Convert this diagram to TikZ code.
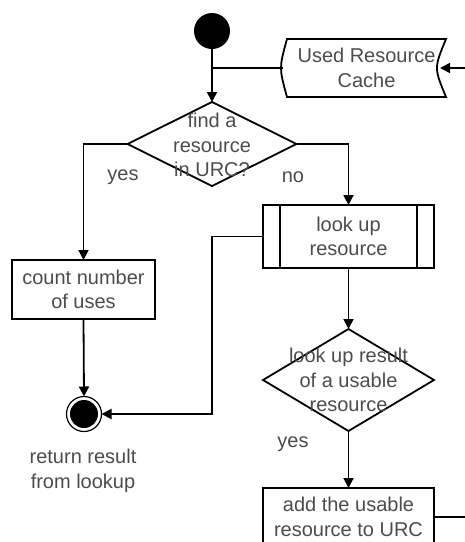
\documentclass[tikz,border=0pt]{standalone}
\usepackage{fontspec}
\setmainfont{Liberation Sans}
\usetikzlibrary{shapes.geometric,arrows.meta,calc}
\begin{document}
\begin{tikzpicture}[x=0.5pt,y=-0.5pt,
  lbl/.style={font=\fontsize{10}{12.25}\selectfont, text=black!70, align=center, inner sep=0pt},
  box/.style={draw, rectangle, line width=0.9pt, inner sep=0pt, outer sep=0pt, align=center,
              font=\fontsize{10}{12.25}\selectfont, text=black!70},
  dia/.style={draw, diamond, line width=0.9pt, inner sep=0pt, outer sep=0pt},
  arr/.style={-{Triangle[width=5pt,length=5pt]}, line width=0.9pt},
  ln/.style={line width=0.9pt}]
\useasboundingbox (0,0) rectangle (465,542);
\clip (0,0) rectangle (465,542);

% start
\node[circle, fill=black, minimum size=18pt, inner sep=0pt, outer sep=0pt] (start) at (212,31) {};

% cache
\node[rectangle, minimum width=79.5pt, minimum height=29pt, inner sep=0pt, outer sep=0pt, lbl] (cache) at (366.5,68) {Used Resource\\Cache};
\draw[ln] (cache.north west) -- (cache.north east)
  .. controls ([xshift=-6pt]cache.east) .. (cache.south east)
  -- (cache.south west)
  .. controls ([xshift=-4pt]cache.west) .. cycle;
\coordinate (cacheL) at ([xshift=-2pt]cache.west);
\coordinate (cacheR) at ([xshift=-3pt]cache.east);
\coordinate (inR) at (465,68);

% decision 1
\node[dia, minimum width=84.5pt, minimum height=42pt] (d1) at (212,144) {};
\node[lbl] (d1t) at (212,145) {find a\\resource\\in URC?};

% count box
\node[box, minimum width=71.5pt, minimum height=29.5pt] (count) at (83.5,289.5) {count number\\of uses};

% lookup box
\node[box, minimum width=85.5pt, minimum height=31.5pt] (lookup) at (348.5,236.5) {look up\\resource};
\draw[ln] ([xshift=8.5pt]lookup.north west) -- ([xshift=8.5pt]lookup.south west);
\draw[ln] ([xshift=-8.5pt]lookup.north east) -- ([xshift=-8.5pt]lookup.south east);

% end
\node[circle, draw, line width=0.6pt, minimum size=17.5pt, inner sep=0pt, outer sep=0pt] (endn) at (84,414) {};
\fill (endn.center) circle (7pt);
\node[lbl] (endt) at (83,471) {return result\\from lookup};

% decision 2
\node[dia, minimum width=85.5pt, minimum height=51pt] (d2) at (348.5,380) {};
\node[lbl] (d2t) at (348.5,380) {look up result\\of a usable\\resource};

% add box
\node[box, minimum width=85.5pt, minimum height=29pt] (add) at (348.5,517) {add the usable\\resource to URC};
\coordinate (outR) at (465,517);

% labels
\node[lbl] (yes1) at (123,177) {yes};
\node[lbl] (no1) at (293,177) {no};
\node[lbl] (yes2) at (293,444) {yes};

% connectors
\draw[arr] (start.south) -- (d1.north);
\draw[ln] (start |- cacheL) -- (cacheL);
\draw[arr] (inR) -- (cacheR);
\draw[arr] (d1.west) -| (count.north);
\draw[arr] (d1.east) -| (lookup.north);
\draw[arr] (lookup.west) -- (lookup.west -| start) |- (endn.east);
\draw[arr] (count.south) -- (endn.north);
\draw[arr] (lookup.south) -- (d2.north);
\draw[arr] (d2.south) -- (add.north);
\draw[ln] (add.east) -- (outR);
\end{tikzpicture}
\end{document}
